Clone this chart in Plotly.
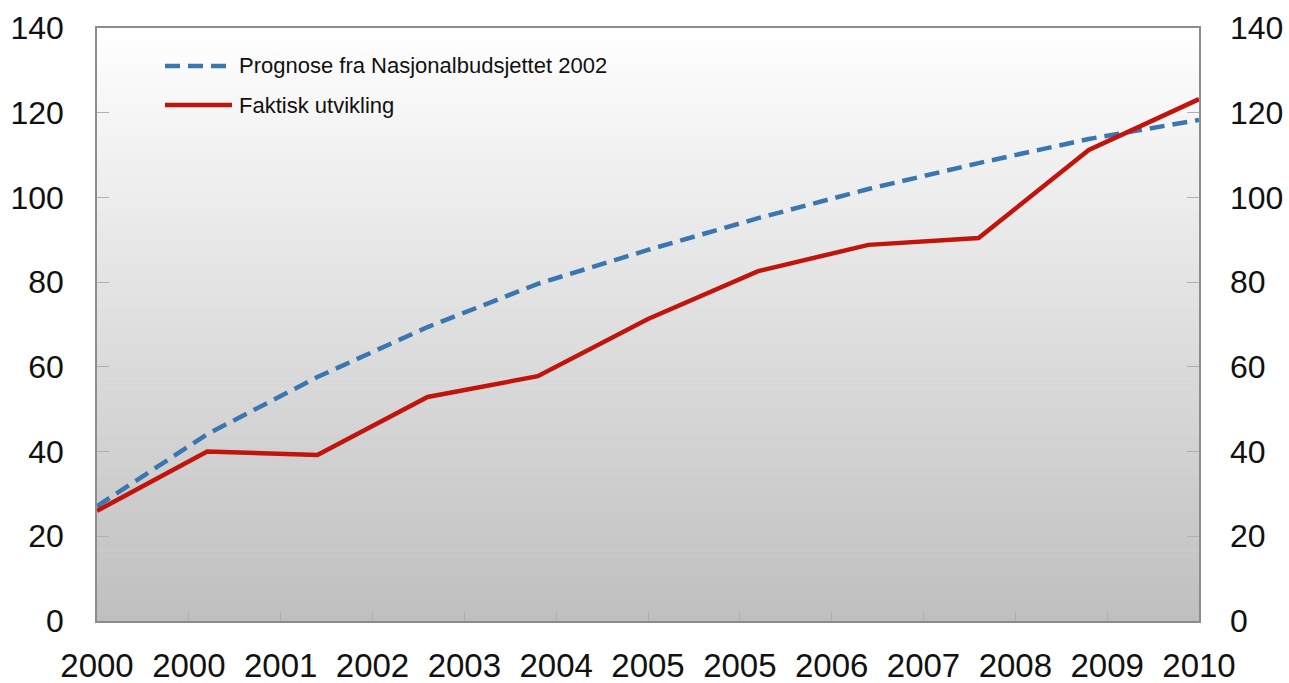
import plotly.graph_objects as go

years = [2000, 2001, 2002, 2003, 2004, 2005, 2006, 2007, 2008, 2009, 2010]
prognose = [27.1, 44.1, 57.6, 69.4, 79.6, 87.6, 95.1, 102.0, 108.1, 113.8, 118.3]
faktisk = [26.0, 40.0, 39.2, 52.9, 57.8, 71.3, 82.6, 88.8, 90.4, 111.2, 123.2]
series_names = ["Prognose fra Nasjonalbudsjettet 2002", "Faktisk utvikling"]
tick_labels = ["2000", "2000", "2001", "2002", "2003", "2004", "2005",
               "2005", "2006", "2007", "2008", "2009", "2010"]
y_ticks = [0, 20, 40, 60, 80, 100, 120, 140]

FONT = "Liberation Sans"
BLUE = "#3a76b0"
RED = "#c0140c"
x0, x1 = years[0], years[-1]
n = len(tick_labels)
tickvals = [x0 + i * (x1 - x0) / (n - 1) for i in range(n)]

fig = go.Figure()

fig.add_trace(go.Scatter(
    x=years, y=prognose, mode="lines", name=series_names[0],
    line=dict(color=BLUE, width=4.5, dash="15px,8px"), showlegend=False,
))
fig.add_trace(go.Scatter(
    x=years, y=faktisk, mode="lines", name=series_names[1],
    line=dict(color=RED, width=4.5), showlegend=False,
))
# invisible trace to activate right axis
fig.add_trace(go.Scatter(x=[x0], y=[0], yaxis="y2", mode="markers",
                         marker=dict(opacity=0), showlegend=False, hoverinfo="skip"))

# vertical gradient background (white -> grey)
steps = 120
shapes = []
for i in range(steps):
    t = (i + 0.5) / steps  # 0 at top, 1 at bottom
    v = int(round(255 - (255 - 191) * t))
    shapes.append(dict(
        type="rect", xref="paper", yref="paper", layer="below",
        x0=0, x1=1, y0=1 - (i + 1) / steps, y1=1 - i / steps + 0.001,
        fillcolor=f"rgb({v},{v},{v})", line=dict(width=0),
    ))

# manual legend (line samples + text)
legend_y = [0.936, 0.870]
legend_styles = [dict(color=BLUE, width=4.5, dash="15px,8px"), dict(color=RED, width=4.5)]
annotations = []
for name, ly, st in zip(series_names, legend_y, legend_styles):
    shapes.append(dict(type="line", xref="paper", yref="paper", x0=0.0617, x1=0.1225,
                       y0=ly, y1=ly, line=st, layer="above"))
    annotations.append(dict(text=name, xref="paper", yref="paper", x=0.127, y=ly,
                            xanchor="left", yanchor="middle", showarrow=False,
                            font=dict(family=FONT, size=22, color="#111111")))

fig.update_layout(
    width=1289, height=683,
    margin=dict(l=97, r=90, t=28, b=62),
    paper_bgcolor="white", plot_bgcolor="rgba(0,0,0,0)",
    font=dict(family=FONT, size=32, color="#111111"),
    shapes=shapes, annotations=annotations,
    showlegend=False,
    xaxis=dict(
        range=[x0, x1], tickmode="array", tickvals=tickvals, ticktext=tick_labels,
        tickfont=dict(size=33),
        ticks="inside", ticklen=10, tickcolor="#b0b0b0", tickwidth=1,
        showgrid=False, zeroline=False, automargin=False,
        showline=True, linecolor="#8c8c8c", linewidth=1.5, mirror=True,
        ticklabelstandoff=15,
    ),
    yaxis=dict(
        range=[0, 140], tickmode="array", tickvals=y_ticks,
        ticks="inside", ticklen=12, tickcolor="#b0b0b0", tickwidth=1,
        showgrid=False, zeroline=False, automargin=False,
        showline=True, linecolor="#8c8c8c", linewidth=1.5, mirror=True,
        ticklabelstandoff=25,
    ),
    yaxis2=dict(
        range=[0, 140], tickmode="array", tickvals=y_ticks, overlaying="y", side="right",
        ticks="inside", ticklen=12, tickcolor="#b0b0b0", tickwidth=1,
        showgrid=False, zeroline=False, showline=False, automargin=False,
        ticklabelstandoff=30,
    ),
)

fig.write_html(
    "out.html",
    config={"displayModeBar": False},
    post_script="document.body.style.margin='0';document.body.style.overflow='hidden';",
)
